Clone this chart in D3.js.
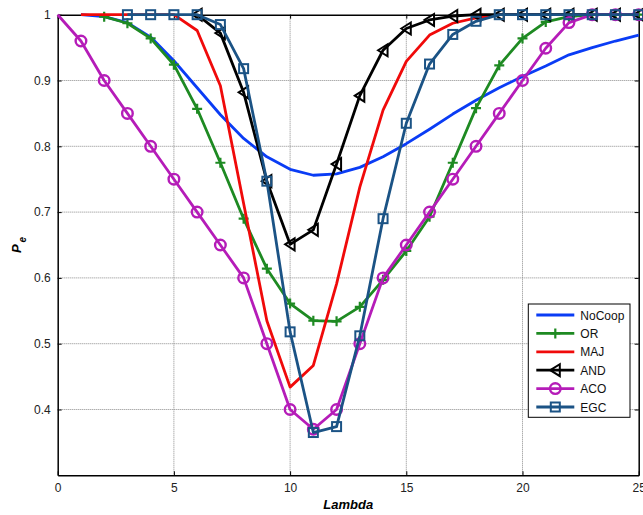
<!DOCTYPE html>
<html>
<head>
<meta charset="utf-8">
<script src="https://cdn.jsdelivr.net/npm/d3@7"></script>
<style>
body { margin: 0; background: #fff; }
svg { display: block; font-family: "Liberation Sans", Arial, sans-serif; }
.grid line { stroke: #8a8a8a; stroke-width: 1; stroke-dasharray: 1,1; }
.axis path, .axis line { stroke: #000; }
.axis text { font-size: 12px; fill: #222; }
</style>
</head>
<body>
<div id="chart"></div>
<script>
/* lambda values 0..25, series (null = not drawn) */
var lambda = [0,1,2,3,4,5,6,7,8,9,10,11,12,13,14,15,16,17,18,19,20,21,22,23,24,25];

var noCoop = [null,1.0,0.997,0.988,0.966,0.930,0.889,0.848,0.812,0.784,0.765,0.756,0.758,0.768,0.784,0.804,0.826,0.849,0.870,0.889,0.906,0.922,0.939,0.950,0.960,0.969];
var orRule = [null,null,0.997,0.987,0.964,0.924,0.857,0.775,0.690,0.614,0.561,0.535,0.534,0.556,0.597,0.641,0.693,0.775,0.858,0.923,0.964,0.989,0.997,1.0,1.0,1.0];
var majRule = [null,1.0,1.0,1.0,1.0,1.0,0.976,0.892,0.713,0.535,0.434,0.467,0.591,0.738,0.855,0.929,0.969,0.987,0.995,1.0,1.0,1.0,1.0,1.0,1.0,1.0];
var andRule = [null,null,null,null,null,null,1.0,0.972,0.882,0.747,0.651,0.673,0.773,0.877,0.946,0.979,0.992,0.998,1.0,1.0,1.0,1.0,1.0,1.0,1.0,1.0];
var aco = [1.0,0.96,0.90,0.85,0.80,0.75,0.70,0.65,0.60,0.50,0.40,0.37,0.40,0.50,0.60,0.65,0.70,0.75,0.80,0.85,0.90,0.949,0.988,1.0,1.0,1.0];
var egc = [null,null,null,1.0,1.0,1.0,1.0,0.985,0.918,0.747,0.518,0.365,0.374,0.512,0.690,0.835,0.925,0.970,0.990,1.0,1.0,1.0,1.0,1.0,1.0,1.0];

var seriesNames = ["NoCoop","OR","MAJ","AND","ACO","EGC"];
var seriesValues = [noCoop, orRule, majRule, andRule, aco, egc];
var seriesColors = ["#0a3cf5","#1e8a22","#f00a0a","#000000","#b51cb8","#1b5385"];
var seriesMarkers = ["none","plus","none","triangle","circle","square"];

var xTicks = [0,5,10,15,20,25];
var yTicks = [0.4,0.5,0.6,0.7,0.8,0.9,1];

var w = 643, h = 515;
var padL = 57.7, padR = 638.7, padT = 14.7, padB = 475.3;

var svg = d3.select("#chart").append("svg").attr("width", w).attr("height", h);

var xScale = d3.scaleLinear().domain([0, 25]).range([padL, padR]);
var yScale = d3.scaleLinear().domain([0.3, 1]).range([padB, padT]);

/* grid */
var grid = svg.append("g").attr("class", "grid");
grid.selectAll("line.gx").data(xTicks.slice(1, -1)).enter().append("line")
	.attr("x1", function (d) { return xScale(d); })
	.attr("x2", function (d) { return xScale(d); })
	.attr("y1", padT).attr("y2", padB);
grid.selectAll("line.gy").data(yTicks.slice(0, -1)).enter().append("line")
	.attr("x1", padL).attr("x2", padR)
	.attr("y1", function (d) { return yScale(d); })
	.attr("y2", function (d) { return yScale(d); });

/* axes, ticks pointing inward on all four sides */
svg.append("g").attr("class", "axis")
	.attr("transform", "translate(0," + padB + ")")
	.call(d3.axisBottom(xScale).tickValues(xTicks).tickSizeInner(-4).tickSizeOuter(0).tickPadding(8))
	.call(function (g) { g.select(".domain").attr("stroke-width", 1.5); });
svg.append("g").attr("class", "axis")
	.attr("transform", "translate(" + padL + ",0)")
	.call(d3.axisLeft(yScale).tickValues(yTicks).tickFormat(d3.format("")).tickSizeInner(-4).tickSizeOuter(0).tickPadding(7))
	.call(function (g) { g.select(".domain").attr("stroke-width", 1.5); });
svg.append("g").attr("class", "axis")
	.attr("transform", "translate(0," + padT + ")")
	.call(d3.axisTop(xScale).tickValues(xTicks).tickFormat("").tickSizeInner(-4).tickSizeOuter(0))
	.call(function (g) { g.select(".domain").attr("stroke-width", 1.5); });
svg.append("g").attr("class", "axis")
	.attr("transform", "translate(" + padR + ",0)")
	.call(d3.axisRight(yScale).tickValues(yTicks).tickFormat("").tickSizeInner(-4).tickSizeOuter(0))
	.call(function (g) { g.select(".domain").attr("stroke-width", 1.5); });

/* axis labels */
svg.append("text")
	.attr("x", (padL + padR) / 2).attr("y", 509)
	.style("text-anchor", "middle")
	.style("font-size", "13px").style("font-weight", "bold").style("font-style", "italic")
	.text("Lambda");

var yl = svg.append("text")
	.attr("transform", "translate(21,245) rotate(-90)")
	.style("text-anchor", "middle")
	.style("font-size", "13px").style("font-weight", "bold").style("font-style", "italic");
yl.append("tspan").text("P");
yl.append("tspan").attr("dy", 5).attr("dx", 2).style("font-size", "10px").text("e");

/* markers */
function drawMarker(g, type, color) {
	if (type === "plus") {
		g.append("path").attr("d", "M-5,0H5M0,-5V5").attr("stroke", color).attr("stroke-width", 2.2).attr("fill", "none");
	} else if (type === "triangle") {
		g.append("path").attr("d", "M-5,0L4.5,-6L4.5,6Z").attr("stroke", color).attr("stroke-width", 2).attr("fill", "none");
	} else if (type === "circle") {
		g.append("circle").attr("r", 5.3).attr("stroke", color).attr("stroke-width", 2.4).attr("fill", "none");
	} else if (type === "square") {
		g.append("rect").attr("x", -4.5).attr("y", -4.5).attr("width", 9).attr("height", 9)
			.attr("stroke", color).attr("stroke-width", 2).attr("fill", "none");
	}
}

var line = d3.line()
	.defined(function (d) { return d.v !== null; })
	.x(function (d) { return xScale(d.x); })
	.y(function (d) { return yScale(d.v); });

var plot = svg.append("g");
seriesValues.forEach(function (vals, s) {
	var pts = lambda.map(function (x, i) { return { x: x, v: vals[i] }; });
	var g = plot.append("g");
	g.append("path").datum(pts)
		.attr("d", line)
		.attr("fill", "none")
		.attr("stroke", seriesColors[s])
		.attr("stroke-width", 2.8)
		.attr("stroke-linejoin", "round");
	if (seriesMarkers[s] !== "none") {
		g.selectAll("g.m").data(pts.filter(function (d) { return d.v !== null && d.x > 0; })).enter()
			.append("g")
			.attr("transform", function (d) { return "translate(" + xScale(d.x) + "," + yScale(d.v) + ")"; })
			.each(function () { drawMarker(d3.select(this), seriesMarkers[s], seriesColors[s]); });
	}
});

/* legend */
var legend = svg.append("g").attr("transform", "translate(528.3,304)");
legend.append("rect").attr("width", 101.7).attr("height", 113.3)
	.attr("fill", "#fff").attr("stroke", "#000").attr("stroke-width", 1);
seriesNames.forEach(function (name, s) {
	var yy = 11 + s * 18.4;
	var item = legend.append("g").attr("transform", "translate(0," + yy + ")");
	item.append("line").attr("x1", 8).attr("x2", 46).attr("y1", 0).attr("y2", 0)
		.attr("stroke", seriesColors[s]).attr("stroke-width", 2.8);
	var m = item.append("g").attr("transform", "translate(27,0)");
	drawMarker(m, seriesMarkers[s], seriesColors[s]);
	item.append("text").attr("x", 52).attr("y", 4.5)
		.style("font-size", "12px").style("fill", "#111").text(name);
});
</script>
</body>
</html>
